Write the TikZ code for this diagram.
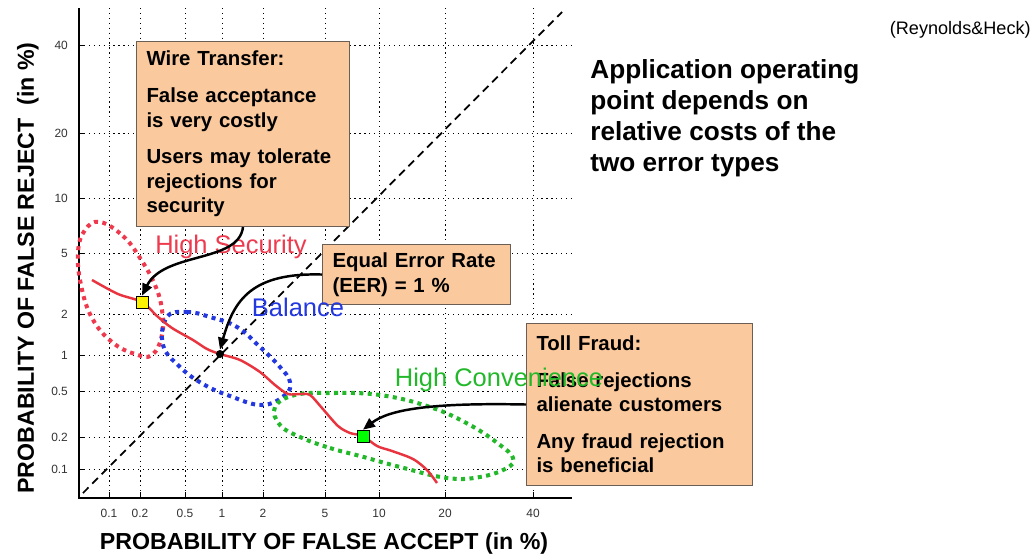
\documentclass[tikz,border=0pt]{standalone}
\usepackage{fontspec}
\setmainfont{Liberation Sans}
\usepackage{tikz}
\usetikzlibrary{arrows.meta,positioning,calc}
\definecolor{Peach}{HTML}{FAC99E}
\definecolor{Edge}{HTML}{6B5E55}
\definecolor{Curve}{HTML}{E8343F}
\definecolor{SecRed}{HTML}{EE3A4E}
\definecolor{BalBlue}{HTML}{2438E0}
\definecolor{ConvGreen}{HTML}{22B82A}
\definecolor{Tick}{HTML}{333333}

\begin{document}
\begin{tikzpicture}[x=0.02cm,y=-0.02cm,
  gridline/.style={dash pattern=on 0.7pt off 2.1pt,line width=0.55pt},
  zoneloop/.style={line width=2.3pt,dash pattern=on 2.3pt off 2.5pt},
  note/.style={draw=Edge,fill=Peach,line width=0.6pt,anchor=north west,align=left,inner xsep=0.2cm,
    font=\fontsize{11.6}{13.9}\selectfont\bfseries},
  pointer/.style={line width=1.4pt,-{Triangle[length=6.8pt,width=5.7pt]}},
  zone/.style={font=\fontsize{14.5}{16}\selectfont},
  ticklab/.style={font=\fontsize{6.8}{8}\selectfont,text=Tick,inner sep=1pt},
  axislab/.style={font=\fontsize{13.2}{15}\selectfont\bfseries}]
  \useasboundingbox (0,0) rectangle (1034,558);
  \foreach \x/\v [count=\i] in {109/0.1,140/0.2,185/0.5,222/1,263/2,325/5,379/10,445/20,533/40}{
    \draw[gridline] (\x,8) -- (\x,498);
    \draw (\x,498) -- (\x,492);
    \node[ticklab] (xt\i) at (\x,513) {\v};
  }
  \foreach \y/\v [count=\i] in {45/40,133/20,198/10,253/5,314/2,355/1,391/0.5,437/0.2,469/0.1}{
    \draw[gridline] (79,\y) -- (572,\y);
    \draw (79,\y) -- (85,\y);
    \node[ticklab,anchor=east] (yt\i) at (70,\y) {\v};
  }
  \draw[line width=0.8pt] (79,8) -- (79,498) -- (572,498);
  \draw[line width=1pt,dash pattern=on 4.5pt off 3pt] (83,493) -- (562,12);
  \draw[zoneloop,SecRed] plot[smooth cycle,tension=0.7] coordinates {(100,222) (123,236) (140,258) (155,285) (162,310) (162,335) (152,355) (135,354) (112,342) (92,318) (81,285) (78,252) (85,230)};
  \draw[zoneloop,BalBlue] plot[smooth cycle,tension=0.7] coordinates {(167,317) (187,312) (210,317) (237,327) (260,347) (280,367) (290,382) (285,395) (262,405) (230,396) (203,384) (180,367) (163,345)};
  \draw[zoneloop,ConvGreen] plot[smooth cycle,tension=0.7] coordinates {(300,437) (330,448) (360,456) (400,467) (447,478) (480,477) (507,468) (513,458) (500,445) (470,425) (430,407) (380,395) (330,393) (295,395) (275,407) (280,425)};
  \draw[Curve,line width=1.4pt] plot[smooth] coordinates {(92,280) (118,294) (142,302) (157,316) (172,328) (193,340) (207,349) (220,354) (240,360) (260,372) (275,385) (288,394) (300,394) (310,395) (322,408) (338,426) (350,433) (363,436) (377,446) (392,451) (413,459) (427,470) (437,483)};
  \node[draw,fill=yellow,minimum size=0.24cm,inner sep=0pt] (ysq) at (142,302) {};
  \node[circle,fill=black,minimum size=0.16cm,inner sep=0pt] (eerpt) at (220,354) {};
  \node[draw,fill=green,minimum size=0.24cm,inner sep=0pt] (gsq) at (363,436) {};
  \node[note,text width=3.86cm,minimum height=3.7cm] (wire) at (136,41)
    {Wire Transfer:\\[7pt] False acceptance\\ is very costly\\[7pt] Users may tolerate\\ rejections for\\ security};
  \node[note,text width=3.36cm,minimum height=1.2cm] (eerbox) at (322,244)
    {Equal Error Rate\\ (EER) = 1 \%};
  \node[note,text width=4.12cm,minimum height=3.24cm] (toll) at (526,323)
    {Toll Fraud:\\[7pt] False rejections\\ alienate customers\\[7pt] Any fraud rejection\\ is beneficial};
  \node[zone,text=SecRed] (hisec) at (231,247) {High Security};
  \node[zone,text=BalBlue] (bal) at (298,307) {Balance};
  \node[zone,text=ConvGreen] (hiconv) at (499,380) {High Convenience};
  \draw[pointer] (wire.south) .. controls +(-4,36) and +(22,-44) .. (ysq.north);
  \draw[pointer] (eerbox.west) .. controls +(-70,-2) and +(14,-50) .. (eerpt.north);
  \draw[pointer] (toll.west) .. controls +(-96,-2) and +(26,-20) .. (gsq.north);
  \node[axislab] (xlab) at (324,543) {PROBABILITY OF FALSE ACCEPT (in \%)};
  \node[axislab,rotate=90] (ylab) at (28,268) {PROBABILITY OF FALSE REJECT\ \ (in \%)};
  \node[font=\fontsize{14.9}{17.6}\selectfont\bfseries,align=left,anchor=west,inner sep=0pt] (claim) at (590,118)
    {Application operating\\ point depends on\\ relative costs of the\\ two error types};
  \node[font=\fontsize{10.3}{12}\selectfont,anchor=east,inner sep=0pt] (cite) at (1031,30) {(Reynolds\&Heck)};
\end{tikzpicture}
\end{document}
